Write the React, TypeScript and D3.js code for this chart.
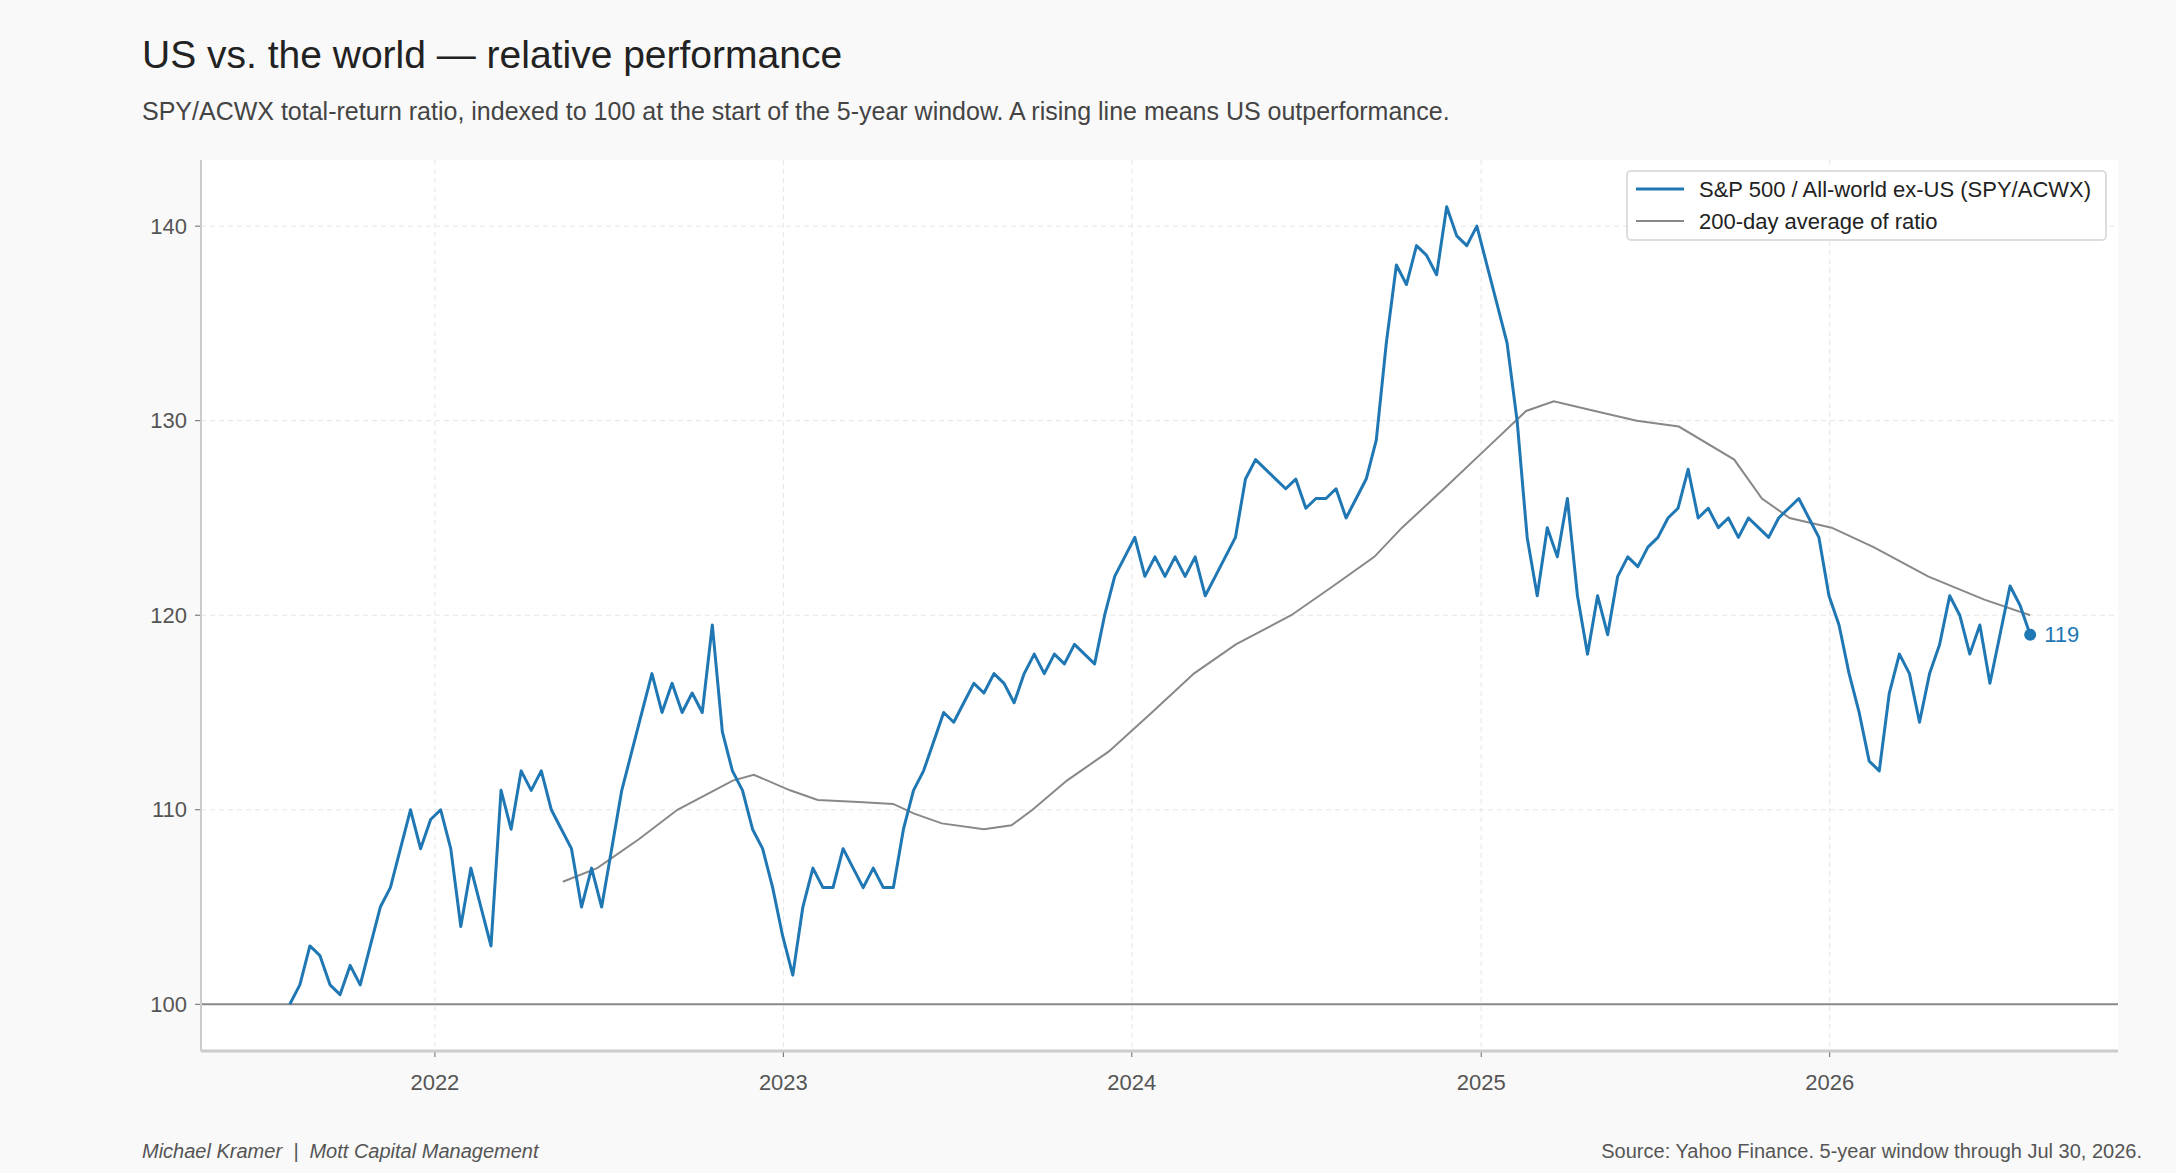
import React, { useEffect } from 'react';
import * as d3 from 'd3';

// SPY/ACWX ratio, evenly spaced samples Aug 2021 -> Jul 30 2026
const START = '2021-08-02';
const END = '2026-07-30';
const ratio = [
  100, 101, 103, 102.5, 101, 100.5, 102, 101, 103, 105, 106, 108, 110, 108, 109.5, 110,
  108, 104, 107, 105, 103, 111, 109, 112, 111, 112, 110, 109, 108, 105, 107, 105,
  108, 111, 113, 115, 117, 115, 116.5, 115, 116, 115, 119.5, 114, 112, 111, 109, 108,
  106, 103.5, 101.5, 105, 107, 106, 106, 108, 107, 106, 107, 106, 106, 109, 111, 112,
  113.5, 115, 114.5, 115.5, 116.5, 116, 117, 116.5, 115.5, 117, 118, 117, 118, 117.5, 118.5, 118,
  117.5, 120, 122, 123, 124, 122, 123, 122, 123, 122, 123, 121, 122, 123, 124, 127,
  128, 127.5, 127, 126.5, 127, 125.5, 126, 126, 126.5, 125, 126, 127, 129, 134, 138, 137,
  139, 138.5, 137.5, 141, 139.5, 139, 140, 138, 136, 134, 130, 124, 121, 124.5, 123, 126, 121, 118,
  121, 119, 122, 123, 122.5, 123.5, 124, 125, 125.5, 127.5, 125, 125.5, 124.5, 125, 124, 125,
  124.5, 124, 125, 125.5, 126, 125, 124, 121, 119.5, 117, 115, 112.5, 112, 116, 118, 117,
  114.5, 117, 118.5, 121, 120, 118, 119.5, 116.5, 119, 121.5, 120.5, 119,
];
const maDates = [
  '2022-05-15', '2022-06-20', '2022-08-03', '2022-09-12', '2022-11-09', '2022-12-01', '2023-01-08', '2023-02-06',
  '2023-03-21', '2023-04-26', '2023-05-18', '2023-06-16', '2023-07-30', '2023-08-28', '2023-09-19', '2023-10-25',
  '2023-12-08', '2024-01-22', '2024-03-06', '2024-04-19', '2024-06-16', '2024-07-30', '2024-09-11', '2024-10-10',
  '2024-11-23', '2025-01-05', '2025-02-17', '2025-03-18', '2025-04-30', '2025-06-13', '2025-07-27', '2025-09-23',
  '2025-10-22', '2025-11-20', '2026-01-03', '2026-02-16', '2026-04-14', '2026-06-12', '2026-07-30',
];
const maValues = [
  106.3, 107, 108.5, 110, 111.5, 111.8, 111, 110.5,
  110.4, 110.3, 109.8, 109.3, 109, 109.2, 110, 111.5,
  113, 115, 117, 118.5, 120, 121.5, 123, 124.5,
  126.5, 128.5, 130.5, 131, 130.5, 130, 129.7, 128,
  126, 125, 124.5, 123.5, 122, 120.8, 120,
];
const yTicks = [100, 110, 120, 130, 140];
const xTickYears = [2022, 2023, 2024, 2025, 2026];

const W = 2176, H = 1173;
const M = { left: 201, right: 2118, top: 160, bottom: 1051 };
const FONT = '"Liberation Sans", Arial, sans-serif';
const BLUE = '#1f77b4';

export default function App() {
  useEffect(() => { document.body.style.margin = '0'; }, []);
  const parse = d3.timeParse('%Y-%m-%d');
  const t0 = parse(START)!.getTime(), t1 = parse(END)!.getTime();
  const series = ratio.map((v, i) => ({ d: new Date(t0 + (t1 - t0) * i / (ratio.length - 1)), v }));
  const ma = maDates.map((s, i) => ({ d: parse(s)!, v: maValues[i] }));

  const x = d3.scaleTime().domain([new Date(2021, 4, 1), new Date(2026, 9, 30)]).range([M.left, M.right]);
  const y = d3.scaleLinear().domain([97.6, 143.4]).range([M.bottom, M.top]);
  const line = d3.line<{ d: Date; v: number }>().x(p => x(p.d)).y(p => y(p.v));
  const last = series[series.length - 1];

  return (
    <svg width={W} height={H} style={{ display: 'block', background: '#f9f9f9', fontFamily: FONT }}>
      <text x={142} y={68} fontSize={39} fill="#222">US vs. the world — relative performance</text>
      <text x={142} y={120} fontSize={25} fill="#444">SPY/ACWX total-return ratio, indexed to 100 at the start of the 5-year window. A rising line means US outperformance.</text>
      <rect x={M.left} y={M.top} width={M.right - M.left} height={M.bottom - M.top} fill="#fff" />
      {yTicks.map(t => (
        <g key={t}>
          <line x1={M.left} x2={M.right} y1={y(t)} y2={y(t)} stroke="#e6e6e6" strokeDasharray="5,4" />
          <line x1={M.left - 6} x2={M.left} y1={y(t)} y2={y(t)} stroke="#666" />
          <text x={M.left - 14} y={y(t)} dy="0.35em" textAnchor="end" fontSize={22} fill="#555">{t}</text>
        </g>
      ))}
      {xTickYears.map(yr => {
        const xv = x(new Date(yr, 0, 1));
        return (
          <g key={yr}>
            <line x1={xv} x2={xv} y1={M.top} y2={M.bottom} stroke="#e6e6e6" strokeDasharray="5,4" />
            <line x1={xv} x2={xv} y1={M.bottom} y2={M.bottom + 6} stroke="#666" />
            <text x={xv} y={1090} textAnchor="middle" fontSize={22} fill="#555">{yr}</text>
          </g>
        );
      })}
      <line x1={M.left} x2={M.right} y1={y(100)} y2={y(100)} stroke="#888" strokeWidth={2} />
      <line x1={M.left} x2={M.left} y1={M.top} y2={M.bottom} stroke="#ccc" strokeWidth={2} />
      <line x1={M.left} x2={M.right} y1={M.bottom} y2={M.bottom} stroke="#ccc" strokeWidth={3} />
      <path d={line(ma) ?? ''} fill="none" stroke="#888" strokeWidth={2} />
      <path d={line(series) ?? ''} fill="none" stroke={BLUE} strokeWidth={3} strokeLinejoin="round" />
      <circle cx={x(last.d)} cy={y(last.v)} r={6} fill={BLUE} />
      <text x={x(last.d) + 14} y={y(last.v)} dy="0.35em" fontSize={22} fill={BLUE}>{Math.round(last.v)}</text>
      <g transform="translate(1627,171)">
        <rect width={479} height={69} rx={4} fill="#fff" stroke="#ddd" strokeWidth={2} />
        <line x1={9} x2={57} y1={18} y2={18} stroke={BLUE} strokeWidth={3} />
        <text x={72} y={18} dy="0.35em" fontSize={22} fill="#222">S&amp;P 500 / All-world ex-US (SPY/ACWX)</text>
        <line x1={9} x2={57} y1={50} y2={50} stroke="#888" strokeWidth={2} />
        <text x={72} y={50} dy="0.35em" fontSize={22} fill="#222">200-day average of ratio</text>
      </g>
      <text x={142} y={1158} fontSize={20} fill="#555" fontStyle="italic" style={{ whiteSpace: 'pre' }}>{'Michael Kramer  |  Mott Capital Management'}</text>
      <text x={2142} y={1158} fontSize={20} fill="#555" textAnchor="end">Source: Yahoo Finance. 5-year window through Jul 30, 2026.</text>
    </svg>
  );
}
